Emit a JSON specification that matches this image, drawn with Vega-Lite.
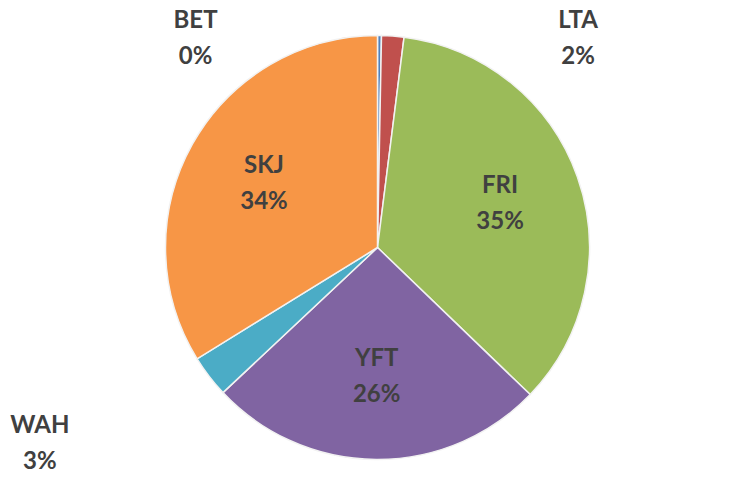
{
  "$schema": "https://vega.github.io/schema/vega-lite/v6.json",
  "width": 755,
  "height": 495,
  "autosize": {"type": "none"},
  "padding": 0,
  "background": "white",
  "config": {"view": {"stroke": null}},
  "data": {
    "values": [
      {"species": "BET", "share": 0.003, "ord": 1},
      {"species": "LTA", "share": 0.017, "ord": 2},
      {"species": "FRI", "share": 0.352, "ord": 3},
      {"species": "YFT", "share": 0.258, "ord": 4},
      {"species": "WAH", "share": 0.032, "ord": 5},
      {"species": "SKJ", "share": 0.338, "ord": 6}
    ]
  },
  "encoding": {
    "theta": {"field": "share", "type": "quantitative", "stack": true},
    "order": {"field": "ord", "type": "quantitative"}
  },
  "layer": [
    {
      "mark": {"type": "arc", "outerRadius": 212, "stroke": "#f2f2f2", "strokeWidth": 1.5},
      "encoding": {
        "color": {
          "field": "species",
          "type": "nominal",
          "scale": {
            "domain": ["BET", "LTA", "FRI", "YFT", "WAH", "SKJ"],
            "range": ["#4F81BD", "#C0504D", "#9BBB59", "#8064A2", "#4BACC6", "#F79646"]
          },
          "legend": null
        }
      }
    },
    {
      "mark": {"type": "text", "radius": 130, "dy": -18, "font": "Lato", "fontWeight": "bold", "fontSize": 24, "fill": "#404040"},
      "encoding": {
        "text": {"field": "species"},
        "opacity": {"condition": {"test": "datum.share > 0.1", "value": 1}, "value": 0}
      }
    },
    {
      "mark": {"type": "text", "radius": 130, "dy": 18, "font": "Lato", "fontWeight": "bold", "fontSize": 24, "fill": "#404040"},
      "encoding": {
        "text": {"field": "share", "format": ".0%"},
        "opacity": {"condition": {"test": "datum.share > 0.1", "value": 1}, "value": 0}
      }
    },
    {
      "mark": {"type": "text", "radius": 215, "dx": -184, "dy": -12, "font": "Lato", "fontWeight": "bold", "fontSize": 24, "fill": "#404040"},
      "encoding": {
        "text": {"field": "species"},
        "opacity": {"condition": {"test": "datum.species == 'BET'", "value": 1}, "value": 0}
      }
    },
    {
      "mark": {"type": "text", "radius": 215, "dx": -184, "dy": 24, "font": "Lato", "fontWeight": "bold", "fontSize": 24, "fill": "#404040"},
      "encoding": {
        "text": {"field": "share", "format": ".0%"},
        "opacity": {"condition": {"test": "datum.species == 'BET'", "value": 1}, "value": 0}
      }
    },
    {
      "mark": {"type": "text", "radius": 215, "dx": 185, "dy": -12, "font": "Lato", "fontWeight": "bold", "fontSize": 24, "fill": "#404040"},
      "encoding": {
        "text": {"field": "species"},
        "opacity": {"condition": {"test": "datum.species == 'LTA'", "value": 1}, "value": 0}
      }
    },
    {
      "mark": {"type": "text", "radius": 215, "dx": 185, "dy": 24, "font": "Lato", "fontWeight": "bold", "fontSize": 24, "fill": "#404040"},
      "encoding": {
        "text": {"field": "share", "format": ".0%"},
        "opacity": {"condition": {"test": "datum.species == 'LTA'", "value": 1}, "value": 0}
      }
    },
    {
      "mark": {"type": "text", "radius": 225, "dx": -159, "dy": 42, "font": "Lato", "fontWeight": "bold", "fontSize": 24, "fill": "#404040"},
      "encoding": {
        "text": {"field": "species"},
        "opacity": {"condition": {"test": "datum.species == 'WAH'", "value": 1}, "value": 0}
      }
    },
    {
      "mark": {"type": "text", "radius": 225, "dx": -159, "dy": 78, "font": "Lato", "fontWeight": "bold", "fontSize": 24, "fill": "#404040"},
      "encoding": {
        "text": {"field": "share", "format": ".0%"},
        "opacity": {"condition": {"test": "datum.species == 'WAH'", "value": 1}, "value": 0}
      }
    }
  ]
}
